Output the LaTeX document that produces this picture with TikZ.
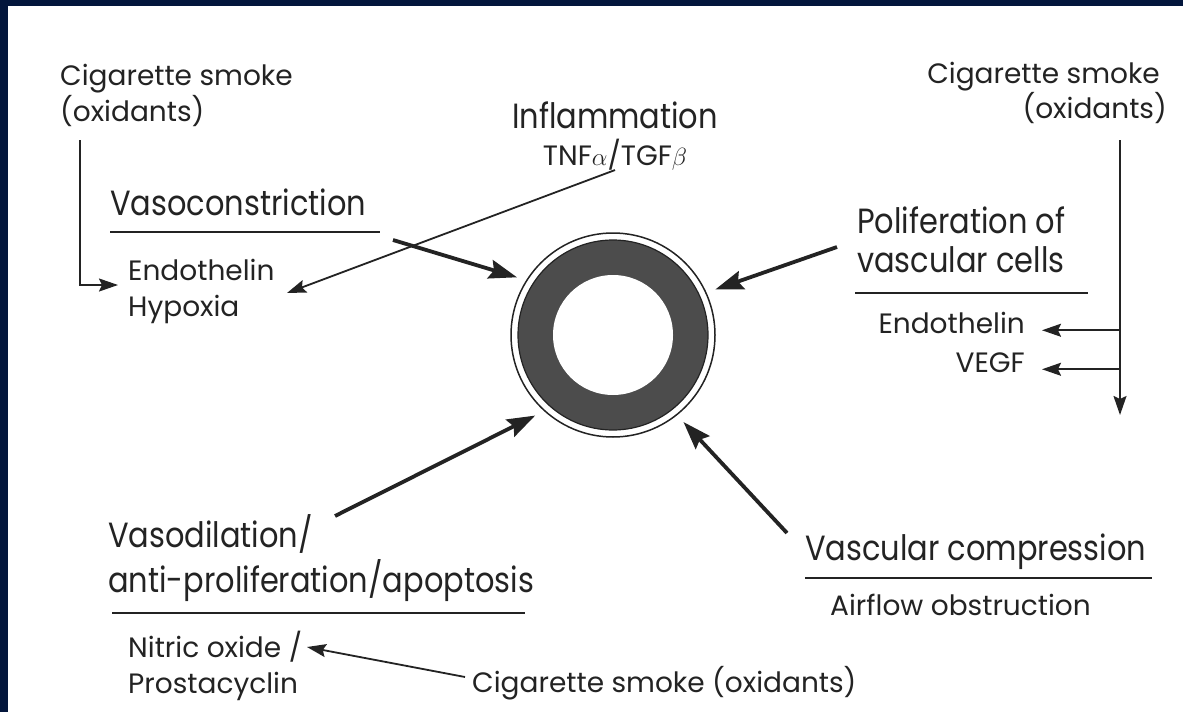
\documentclass[tikz,border=0pt]{standalone}
\usepackage{fontspec}
\setmainfont[FakeStretch=0.87]{Poppins}
\newfontfamily\labelfont{Poppins}
\usetikzlibrary{arrows.meta}
\definecolor{framenavy}{RGB}{3,22,60}
\definecolor{inkgray}{RGB}{35,35,35}
\definecolor{wallgray}{RGB}{76,76,76}
\tikzset{
  head/.style={font=\fontsize{35}{40}\selectfont,text=inkgray,inner sep=0pt},
  small/.style={font=\labelfont\fontsize{28}{32}\selectfont,text=inkgray,inner sep=0pt},
  rule/.style={inkgray,line width=2.6pt},
  thin arrow/.style={-{Stealth[length=19pt,width=13pt,inset=3pt]},inkgray,line width=1.8pt},
  bold arrow/.style={-{Stealth[length=28pt,width=19pt,inset=4pt]},inkgray,line width=3.8pt},
}

\begin{document}
\begin{tikzpicture}[x=1pt,y=-1pt]
  \fill[framenavy](0,0)rectangle(1183,712);
  \fill[white](8,6)rectangle(1183,712);
  \useasboundingbox(0,0)rectangle(1183,712);
  % the vessel
  \node[circle,draw=inkgray,line width=1.5pt,minimum size=204pt,inner sep=0pt,outer sep=10pt](vessel)at(613,335){};
  \filldraw[fill=wallgray,draw=inkgray,line width=1.2pt](vessel.center)circle(95pt);
  \fill[white](vessel.center)circle(60pt);
  % top left
  \node[small,anchor=base west](smokeL)at(60,85){Cigarette smoke};
  \node[small,anchor=base west](oxL)at(60,121){(oxidants)};
  \node[head,anchor=base west](vasoc)at(110,215){Vasoconstriction};
  \node[small,anchor=base west](endoL)at(128,280){Endothelin};
  \node[small,anchor=base west](hypox)at(128,316){Hypoxia};
  \draw[rule](110,232)--(380,232);
  % top
  \node[head,anchor=base](inflam)at(615,128){Inflammation};
  \node[small,anchor=base](tnf)at(615,165){TNF$\alpha$/TGF$\beta$};
  % right
  \node[small,anchor=base east](smokeR)at(1160,83){Cigarette smoke};
  \node[small,anchor=base east](oxR)at(1167,118){(oxidants)};
  \node[head,anchor=base west](polif)at(857,233){Poliferation of};
  \node[head,anchor=base west](vcells)at(857,272){vascular cells};
  \node[small,anchor=base east](endoR)at(1025,333){Endothelin};
  \node[small,anchor=base east](vegf)at(1025,372){VEGF};
  \draw[rule](855,293)--(1088,293);
  % bottom
  \node[head,anchor=base west](vasod)at(108,547){Vasodilation/};
  \node[head,anchor=base west](antip)at(108,592){anti-proliferation/apoptosis};
  \node[small,anchor=base west](nitric)at(128,657){Nitric oxide /};
  \node[small,anchor=base west](prosta)at(128,693){Prostacyclin};
  \node[small,anchor=base west](smokeB)at(472,692){Cigarette smoke (oxidants)};
  \node[head,anchor=base west](vcomp)at(805,560){Vascular compression};
  \node[small,anchor=base west](airflow)at(830,615){Airflow obstruction};
  \draw[rule](112,613)--(525,613);
  \draw[rule](805,578)--(1152,578);
  % free ends
  \coordinate(smokeLdrop)at(80,140);
  \coordinate(endoLin)at(118,285);
  \coordinate(hypoxin)at(287,293);
  \coordinate(smokeRdrop)at(1120,140);
  \coordinate(smokeRend)at(1120,415);
  \coordinate(nitricin)at(307,647);
  \coordinate(smokeBout)at(465,677);
  \coordinate(vasocout)at(393,240);
  \coordinate(polifout)at(837,247);
  \coordinate(vasodout)at(335,516);
  \coordinate(vcompout)at(787,533);
  % connectors
  \draw[thin arrow](smokeLdrop)|-(endoLin);
  \draw[thin arrow](tnf.south)--(hypoxin);
  \draw[thin arrow](smokeRdrop)--(smokeRend);
  \draw[thin arrow](smokeRdrop|-endoR.mid)--([xshift=17pt]endoR.mid east);
  \draw[thin arrow](smokeRdrop|-vegf.mid)--([xshift=17pt]vegf.mid east);
  \draw[thin arrow](smokeBout)--(nitricin);
  \draw[bold arrow](vasocout)--(vessel.149.5);
  \draw[bold arrow](polifout)--(vessel.24);
  \draw[bold arrow](vasodout)--(vessel.226);
  \draw[bold arrow](vcompout)--(vessel.309.5);
\end{tikzpicture}
\end{document}
